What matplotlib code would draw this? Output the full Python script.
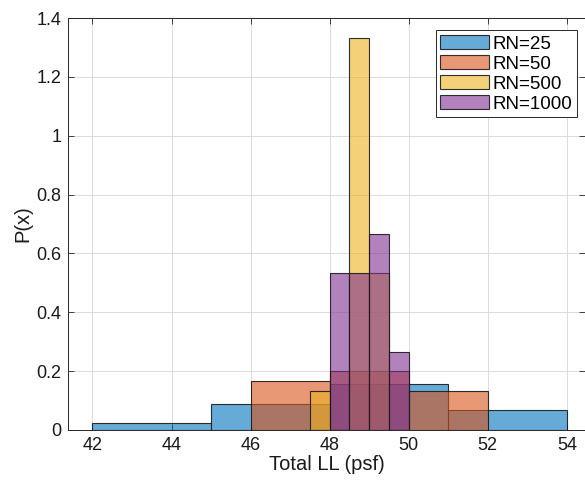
import numpy as np
import matplotlib
matplotlib.use("Agg")
import matplotlib.pyplot as plt

plt.rcParams['font.family'] = ['Liberation Sans', 'DejaVu Sans']

# Data (normalized as probability density)
labels = ["RN=25", "RN=50", "RN=500", "RN=1000"]
edges_25 = [42, 45, 48, 51, 54]
vals_25 = [0.0222, 0.0889, 0.1556, 0.0667]
edges_50 = [46, 48, 50, 52]
vals_50 = [0.1667, 0.2, 0.1333]
edges_500 = [47.5, 48, 48.5, 49, 49.5]
vals_500 = [0.1333, 0.0, 1.3333, 0.5333]
edges_1000 = [48, 48.5, 49, 49.5, 50]
vals_1000 = [0.5333, 0.5333, 0.6667, 0.2667]

xticks = [42, 44, 46, 48, 50, 52, 54]
yticks = [0, 0.2, 0.4, 0.6, 0.8, 1.0, 1.2, 1.4]
ytick_labels = ["0", "0.2", "0.4", "0.6", "0.8", "1", "1.2", "1.4"]

colors = [(0.0, 0.447, 0.741), (0.85, 0.325, 0.098),
          (0.929, 0.694, 0.125), (0.494, 0.184, 0.556)]

fig = plt.figure(figsize=(5.85, 4.8), dpi=100)
ax = fig.add_axes([0.1168, 0.1042, 0.8832, 0.8583])

series = [(edges_25, vals_25), (edges_50, vals_50),
          (edges_500, vals_500), (edges_1000, vals_1000)]
for (e, v), c, lab in zip(series, colors, labels):
    e = np.array(e, dtype=float)
    ax.bar(e[:-1], v, width=np.diff(e), align='edge',
           facecolor=(*c, 0.6), edgecolor=(0.1, 0.1, 0.1, 0.9),
           linewidth=0.8, label=lab, zorder=3)

ax.set_xlim(41.39, 54.46)
ax.set_ylim(0, 1.4)
ax.set_xticks(xticks)
ax.set_yticks(yticks)
ax.set_yticklabels(ytick_labels)
ax.tick_params(direction='in', length=4, width=0.6, labelsize=13,
               top=True, right=True, colors=(0.15, 0.15, 0.15),
               labelcolor=(0.1, 0.1, 0.1), pad=5)
ax.grid(True, color=(0.86, 0.86, 0.86), linewidth=0.7, zorder=0)
ax.set_axisbelow(True)
for s in ['left', 'bottom', 'top']:
    ax.spines[s].set_color((0.15, 0.15, 0.15))
    ax.spines[s].set_linewidth(0.7)
ax.spines['right'].set_visible(False)

ax.set_xlabel("Total LL (psf)", fontsize=14.5, color=(0.1, 0.1, 0.1), labelpad=1)
ax.set_ylabel("P(x)", fontsize=14.5, color=(0.1, 0.1, 0.1), labelpad=3)

leg = ax.legend(loc='upper right', bbox_to_anchor=(0.985, 0.97), fontsize=13.5,
                handlelength=2.6, handleheight=0.8, handletextpad=0.2,
                labelspacing=0.12, borderpad=0.25, borderaxespad=0.0,
                fancybox=False, framealpha=1, edgecolor=(0.15, 0.15, 0.15))
leg.get_frame().set_linewidth(0.7)

fig.savefig("out.png", dpi=100)
